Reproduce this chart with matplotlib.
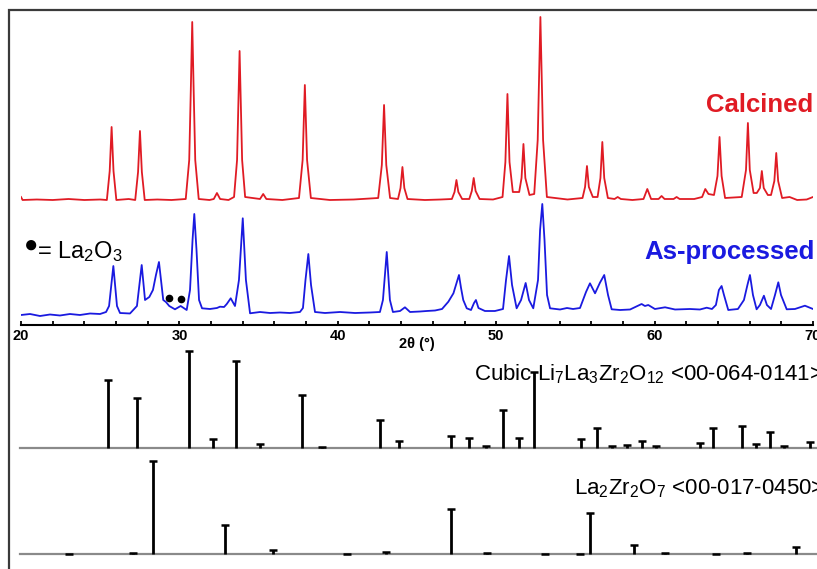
import matplotlib
matplotlib.use('Agg')
import matplotlib.pyplot as plt
from matplotlib.patches import Rectangle
from matplotlib.ticker import MultipleLocator

plt.rcParams['font.family'] = ['Liberation Sans', 'DejaVu Sans']
plt.rcParams['mathtext.fontset'] = 'custom'
plt.rcParams['mathtext.rm'] = 'Liberation Sans'
plt.rcParams['mathtext.default'] = 'regular'

# ------------------------- DATA -------------------------

# As-processed pattern (2theta, intensity above its own baseline)
blue_tt = [20.00, 20.57, 21.20, 21.83, 22.46, 23.09, 23.72, 24.36, 24.99, 25.37,
           25.56, 25.83, 26.06, 26.25, 26.88, 27.32, 27.62, 27.83, 28.10, 28.33,
           28.52, 28.71, 28.87, 28.98, 29.15, 29.36, 29.72, 30.08, 30.46, 30.67,
           30.83, 30.94, 31.08, 31.24, 31.43, 31.93, 32.37, 32.56, 32.82, 32.99,
           33.24, 33.51, 33.76, 34.00, 34.20, 34.46, 35.09, 35.72, 36.35, 36.98,
           37.61, 37.80, 37.96, 38.14, 38.31, 38.56, 39.19, 40.14, 41.09, 42.03,
           42.66, 42.85, 43.09, 43.29, 43.48, 43.93, 44.24, 44.56, 45.19, 45.61,
           46.14, 46.58, 46.98, 47.30, 47.46, 47.65, 47.78, 47.92, 48.14, 48.41,
           48.60, 48.72, 48.88, 49.29, 49.92, 50.43, 50.62, 50.81, 51.00, 51.29,
           51.57, 51.86, 52.07, 52.34, 52.64, 52.77, 52.91, 53.05, 53.21, 53.40,
           54.03, 54.47, 54.85, 55.29, 55.67, 55.92, 56.24, 56.55, 56.82, 57.06,
           57.29, 57.82, 58.45, 59.18, 59.39, 59.60, 60.02, 60.66, 61.29, 62.23,
           62.86, 63.29, 63.62, 63.87, 64.06, 64.23, 64.38, 64.65, 65.26, 65.64,
           65.86, 66.02, 66.21, 66.44, 66.65, 66.90, 67.09, 67.35, 67.60, 67.81,
           67.98, 68.34, 68.86, 69.49, 70.00]
blue_int = [1, 2, 0, 1.5, 0.5, 2, 1, 2.5, 2, 4,
            10, 50, 10, 3, 2.5, 10, 51, 16, 19, 26,
            41, 54, 31, 16, 14, 10, 6.7, 10, 6, 26,
            76, 102, 66, 16, 7.7, 7, 8, 9.3, 9, 12,
            17.7, 10, 36, 97.7, 36, 2.7, 4, 3, 3.5, 3,
            4, 8, 36, 62, 31, 4, 3, 4, 3, 3.5,
            4, 16, 64, 16, 4, 5, 8.7, 4, 4.5, 5,
            5.5, 7, 14.3, 22.7, 31, 41, 28, 16, 7.7, 6,
            13, 16, 8, 5, 5, 7, 36, 60, 31, 7.7,
            16, 33, 16, 7.7, 36, 86, 112, 76, 21, 7.7,
            6.5, 8, 7, 8, 24, 32.7, 22.7, 33.3, 41, 21,
            6.7, 6, 6.5, 12, 10, 11, 7, 8.7, 6.5, 7,
            6.5, 8.3, 7, 11, 26, 30, 21, 6, 7, 16,
            31, 41, 21, 6.7, 11, 20.3, 11, 7, 21, 33.7,
            21, 6.7, 7, 10.3, 7]

# Calcined pattern
red_tt = [20.00, 20.10, 21.00, 22.00, 23.00, 24.00, 25.00,
          25.42, 25.60, 25.72, 25.84, 26.02, 26.80,
          27.21, 27.39, 27.51, 27.63, 27.81, 28.60, 29.50,
          30.40, 30.62, 30.72, 30.81, 30.90, 31.00, 31.22, 31.90,
          32.17, 32.37, 32.57, 33.10,
          33.45, 33.64, 33.72, 33.80, 33.88, 33.96, 34.15,
          35.09, 35.29, 35.49, 36.50,
          37.55, 37.78, 37.92, 38.06, 38.30, 39.50, 41.00,
          42.55, 42.78, 42.92, 43.06, 43.30,
          43.80, 43.96, 44.08, 44.20, 44.40, 45.50, 46.50,
          47.20, 47.37, 47.49, 47.61, 47.85,
          48.30, 48.46, 48.58, 48.70, 48.95, 49.80,
          50.40, 50.58, 50.71, 50.84, 51.05,
          51.45, 51.60, 51.72, 51.84, 52.10,
          52.40, 52.62, 52.70, 52.79, 52.88, 52.96, 53.20, 54.50,
          55.45, 55.61, 55.73, 55.85, 56.10,
          56.40, 56.58, 56.70, 56.82, 57.05,
          57.47, 57.67, 57.87, 58.60,
          59.30, 59.54, 59.78, 60.25, 60.44, 60.63, 61.20, 61.39, 61.58, 62.50,
          63.00, 63.20, 63.40, 63.75, 63.97, 64.10, 64.23, 64.45,
          65.50, 65.77, 65.89, 66.01, 66.25,
          66.45, 66.65, 66.77, 66.89, 67.15,
          67.35, 67.56, 67.68, 67.80, 68.05,
          68.52, 69.00, 69.60, 70.00]
red_int = [3, 0, 0.5, 0, 1, 0, 0.5,
           0, 29, 73, 29, 0, 1,
           0, 28, 69, 28, 0, 0.5, 0,
           1, 40, 110, 178, 110, 40, 1, 0,
           1, 7, 1, 0,
           3, 40, 95, 149, 95, 40, 3,
           1, 6, 1, 0,
           2, 40, 115, 40, 2, 0, 0.5,
           2, 35, 95, 35, 2,
           1, 12, 33, 12, 1, 0, 0.5,
           1, 8, 20, 8, 1,
           1, 9, 22, 9, 1, 0.5,
           3, 38, 106, 38, 8,
           8, 22, 56, 22, 5,
           6, 60, 120, 183, 120, 60, 3, 0.5,
           2, 13, 34, 13, 3,
           3, 22, 58, 22, 2,
           1, 3, 1, 0,
           1, 11, 1, 1, 4, 1, 1, 3, 1, 1,
           3, 11, 6, 5, 24, 63, 24, 2,
           3, 30, 77, 30, 7,
           7, 12, 29, 12, 5,
           5, 19, 47, 19, 2,
           3, 0, 0.5, 3]

# La2O3 markers
la2o3_tt = [29.36, 30.08]
la2o3_int = [18.3, 16.7]

# Reference sticks: Cubic Li7La3Zr2O12 <00-064-0141>
llzo_tt = [25.49, 27.32, 30.60, 32.10, 33.60, 35.08, 37.73, 39.00, 42.65, 43.85,
           47.17, 48.26, 49.34, 50.41, 51.42, 52.41, 55.38, 56.36, 57.31, 58.28,
           59.20, 60.10, 62.84, 63.70, 65.50, 66.37, 67.26, 68.16, 69.84]
llzo_int = [68, 50, 97, 9, 87, 4, 53, 0.5, 28, 7,
            12, 10, 2, 38, 10, 76, 9, 20, 2, 3,
            7, 2, 5, 20, 22, 4, 16, 2, 6]

# Reference sticks: La2Zr2O7 <00-017-0450>
lzo_tt = [23.05, 27.09, 28.33, 32.87, 35.92, 40.55, 43.07, 47.17, 49.44, 53.10,
          55.27, 55.94, 58.69, 60.67, 63.89, 65.85, 68.94]
lzo_int = [0, 1, 93, 29, 4, 0, 2, 45, 1, 0,
           0, 41, 9, 1, 0, 0.5, 7]

# ------------------------- PLOT -------------------------

W, H = 817, 569
fig = plt.figure(figsize=(W / 100, H / 100), dpi=100)

red = '#e01b24'
blue = '#1a1ae0'

# outer frame
fig.add_artist(Rectangle((9 / W, -0.05), 1.2, 1 - 10 / H + 0.05,
                         transform=fig.transFigure, fill=False,
                         edgecolor='#3a3a3a', linewidth=1.6))

# measured patterns
ax = fig.add_axes([21 / W, 244 / H, 792 / W, 313 / H])
blue_off = 9
red_off = 125
ax.plot(blue_tt, [v + blue_off for v in blue_int], color=blue, lw=1.3)
ax.plot(red_tt, [v + red_off for v in red_int], color=red, lw=1.3)
ax.plot(la2o3_tt, [v + blue_off for v in la2o3_int], 'o', color='black', ms=4.5)
ax.set_xlim(20, 70)
ax.set_ylim(0, 313)
for s in ['top', 'left', 'right']:
    ax.spines[s].set_visible(False)
ax.spines['bottom'].set_linewidth(1.5)
ax.set_yticks([])
ax.xaxis.set_major_locator(MultipleLocator(10))
ax.xaxis.set_minor_locator(MultipleLocator(2))
ax.tick_params(axis='x', which='both', direction='in', length=3, width=1.3, pad=4)
ax.set_xticklabels([])
for t in range(20, 71, 10):
    fig.text((21 + (t - 20) * 792 / 50) / W, 1 - 329 / H, str(t), ha='center', va='top',
             fontsize=10.5, fontweight='bold')
ax.patch.set_visible(False)

fig.text(417 / W, 1 - 344 / H, '2θ (°)', ha='center', va='center',
         fontsize=10.5, fontweight='bold')
fig.text(813 / W, 1 - 111.5 / H, 'Calcined', ha='right', va='baseline',
         fontsize=18.5, fontweight='bold', color=red)
fig.text(815 / W, 1 - 258.5 / H, 'As-processed', ha='right', va='baseline',
         fontsize=18.5, fontweight='bold', color=blue)
fig.text(31 / W, 1 - 246 / H, '●', ha='center', va='center', fontsize=17)
fig.text(37 / W, 1 - 258 / H, '= La$_2$O$_3$', ha='left', va='baseline', fontsize=17)

# reference sticks
ax2 = fig.add_axes([21 / W, 0, 792 / W, 229 / H])
ax2.set_xlim(20, 70)
ax2.set_ylim(0, 229)
ax2.axis('off')
refs = [(llzo_tt, llzo_int, 121.3), (lzo_tt, lzo_int, 15.3)]
for tt, ints, base in refs:
    ax2.plot([19.94, 71], [base, base], color='#8a8a8a', lw=1.6, clip_on=False)
    ax2.vlines(tt, base, [base + v for v in ints], color='black', lw=2, clip_on=False)
    ax2.plot(tt, [base + v for v in ints], ls='none', marker='_', ms=6, mew=1.8,
             color='black', clip_on=False)

fig.text(474 / W, 1 - 380.7 / H, 'Cubic Li$_7$La$_3$Zr$_2$O$_{12}$ <00-064-0141>',
         ha='left', va='baseline', fontsize=16)
fig.text(574 / W, 1 - 494 / H, 'La$_2$Zr$_2$O$_7$ <00-017-0450>',
         ha='left', va='baseline', fontsize=16)

fig.savefig('out.png', dpi=100)
